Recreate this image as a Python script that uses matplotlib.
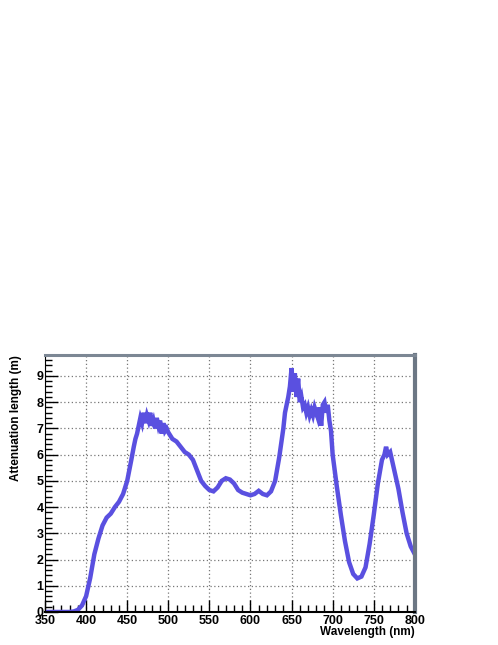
import matplotlib
matplotlib.use("Agg")
import matplotlib.pyplot as plt
from matplotlib.ticker import MultipleLocator

plt.rcParams['font.family'] = ['Liberation Sans', 'DejaVu Sans']

# wavelength (nm) and attenuation length (m)
wavelength = [350, 355, 360, 365, 370, 375, 380, 385, 390, 395,
              400, 405, 410, 415, 420, 425, 430, 435, 440, 445,
              450, 455, 458, 460, 462, 464, 466, 468, 470, 472,
              474, 476, 478, 480, 482, 484, 486, 488, 490, 492,
              494, 496, 498, 500, 505, 510, 515, 520, 525, 530,
              535, 540, 545, 550, 555, 560, 565, 570, 575, 580,
              585, 590, 595, 600, 605, 610, 615, 620, 625, 630,
              635, 640, 642, 644, 646, 648, 650, 652, 654, 656,
              658, 660, 662, 664, 666, 668, 670, 672, 674, 676,
              678, 680, 682, 684, 686, 688, 690, 692, 694, 696,
              698, 700, 705, 710, 715, 720, 725, 730, 735, 740,
              745, 750, 755, 760, 763, 765, 767, 770, 775, 780,
              785, 790, 795, 800]
atten = [0.0, 0.0, 0.0, 0.0, 0.0, 0.0, 0.0, 0.02, 0.08, 0.25,
         0.6, 1.3, 2.2, 2.8, 3.3, 3.6, 3.75, 4.0, 4.2, 4.5,
         5.0, 5.8, 6.3, 6.6, 6.8, 7.1, 7.4, 7.2, 7.6, 7.2,
         7.5, 7.3, 7.6, 7.1, 7.3, 7.0, 7.4, 7.1, 7.3, 6.8,
         7.2, 6.9, 7.0, 6.85, 6.6, 6.5, 6.3, 6.1, 6.0, 5.8,
         5.4, 5.0, 4.8, 4.65, 4.6, 4.75, 5.0, 5.1, 5.05, 4.9,
         4.65, 4.55, 4.5, 4.45, 4.5, 4.62, 4.5, 4.45, 4.6, 5.0,
         5.9, 7.0, 7.6, 7.9, 8.2, 8.6, 9.3, 8.4, 9.1, 8.2,
         8.9, 8.0, 8.2, 7.8, 7.9, 7.6, 7.8, 7.5, 7.7, 7.5,
         7.8, 7.6, 7.4, 7.8, 7.1, 7.9, 8.0, 7.6, 7.9, 7.3,
         6.9, 6.0, 4.8, 3.7, 2.7, 1.9, 1.45, 1.28, 1.35, 1.7,
         2.6, 3.7, 4.9, 5.8, 6.0, 6.3, 6.0, 6.1, 5.4, 4.7,
         3.8, 3.0, 2.5, 2.2]

fig = plt.figure(figsize=(4.98, 6.45), dpi=100)
ax = fig.add_axes([0.0904, 0.0512, 0.7426, 0.3984])

ax.plot(wavelength, atten, color='#5a50e0', lw=3.2, solid_joinstyle='miter')

ax.set_xlim(350, 800)
ax.set_ylim(0, 9.8)
ax.xaxis.set_major_locator(MultipleLocator(50))
ax.xaxis.set_minor_locator(MultipleLocator(10))
ax.yaxis.set_major_locator(MultipleLocator(1))
ax.yaxis.set_minor_locator(MultipleLocator(0.2))
ax.tick_params(which='both', direction='in', top=False, right=False,
               labelsize=9, width=1)
ax.tick_params(which='major', length=9)
ax.tick_params(which='minor', length=5)
ax.tick_params(axis='x', pad=2)
ax.tick_params(axis='y', pad=1)
for lab in ax.get_xticklabels() + ax.get_yticklabels():
    lab.set_fontweight('bold')

ax.grid(True, which='major', color='#777777', linestyle=(0, (1, 2)), lw=0.9)

ax.spines['left'].set_color('black')
ax.spines['bottom'].set_color('black')
ax.spines['bottom'].set_linewidth(1.5)
ax.spines['top'].set_color('#7c8794')
ax.spines['top'].set_linewidth(2.2)
ax.spines['right'].set_color('#6c7784')
ax.spines['right'].set_linewidth(3)

ax.set_xlabel('Wavelength (nm)', fontsize=8.5, fontweight='bold', labelpad=1)
ax.xaxis.set_label_coords(1.0, -0.055)
ax.xaxis.label.set_horizontalalignment('right')
ax.set_ylabel('Attenuation length (m)', fontsize=8.5, fontweight='bold')
ax.yaxis.set_label_coords(-0.078, 1.0)
ax.yaxis.label.set_horizontalalignment('right')
ax.yaxis.label.set_verticalalignment('center')

fig.savefig('out.png', dpi=100)
